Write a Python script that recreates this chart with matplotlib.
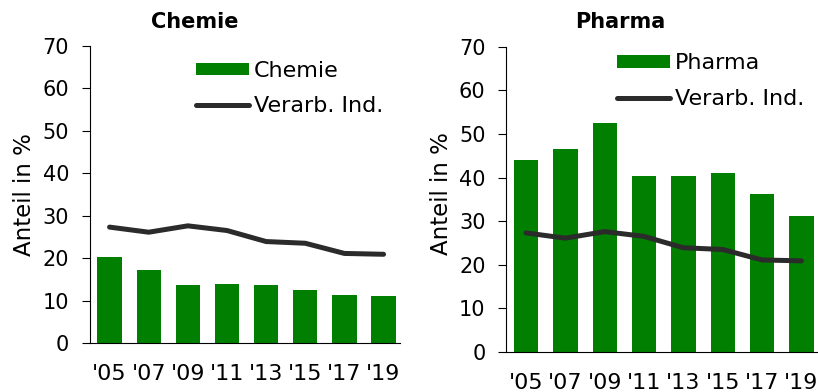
import numpy as np
import matplotlib.pyplot as plt

years = ["'05", "'07", "'09", "'11", "'13", "'15", "'17", "'19"]
chemie = [20.2, 17.3, 13.7, 13.8, 13.7, 12.6, 11.4, 11.1]
pharma = [44.0, 46.6, 52.5, 40.4, 40.4, 41.0, 36.2, 31.2]
verarb = [27.3, 26.1, 27.6, 26.5, 23.9, 23.5, 21.1, 20.9]

green = '#007f00'
dark = '#2b2b2b'

fig = plt.figure(figsize=(8.18, 3.92), dpi=100)
ax1 = fig.add_axes([0.110, 0.125, 0.379, 0.758])
ax2 = fig.add_axes([0.619, 0.102, 0.381, 0.779])

x = np.arange(len(years))

def panel(ax, bars, name, leg_pos):
    b = ax.bar(x, bars, width=0.62, color=green, zorder=2)
    l, = ax.plot(x, verarb, color=dark, lw=3.6, solid_capstyle='round', zorder=3)
    ax.set_xlim(-0.5, 7.42)
    ax.set_ylim(0, 70)
    ax.set_yticks(range(0, 71, 10))
    ax.set_xticks(x)
    ax.set_xticklabels(years)
    ax.tick_params(axis='x', length=0, pad=15, labelsize=16)
    ax.tick_params(axis='y', length=6, pad=9, labelsize=15, direction='out')
    for s in ['top', 'right']:
        ax.spines[s].set_visible(False)
    ax.set_ylabel('Anteil in %', fontsize=16.5)
    ax.legend([b, l], [name, 'Verarb. Ind.'], loc='upper left', bbox_to_anchor=leg_pos,
              bbox_transform=fig.transFigure,
              frameon=False, fontsize=16, borderpad=0, borderaxespad=0,
              handlelength=2.4, handleheight=0.5, handletextpad=0.2,
              labelspacing=0.7)

panel(ax1, chemie, 'Chemie', (0.2396, 0.845))
panel(ax2, pharma, 'Pharma', (0.754, 0.864))

ax1.yaxis.set_label_coords(-0.175, 0.5)
ax2.yaxis.set_label_coords(-0.17, 0.52)

fig.text(195 / 818, 0.944, 'Chemie', ha='center', va='center', fontsize=15, fontweight='bold')
fig.text(620 / 818, 0.944, 'Pharma', ha='center', va='center', fontsize=15, fontweight='bold')

plt.savefig('out.png', dpi=100)
